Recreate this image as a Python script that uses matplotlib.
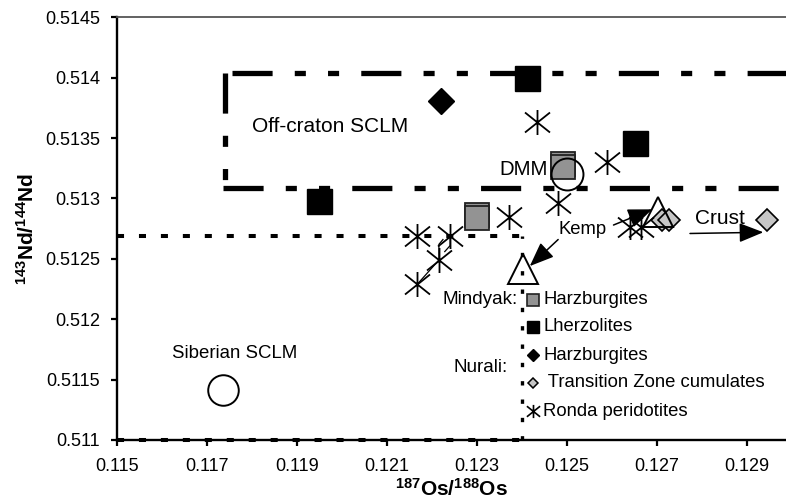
import matplotlib
matplotlib.use("Agg")
import matplotlib.pyplot as plt
from matplotlib.path import Path

plt.rcParams["font.family"] = ["Liberation Sans", "DejaVu Sans"]
plt.rcParams["mathtext.fontset"] = "custom"
plt.rcParams["mathtext.rm"] = "Liberation Sans"
plt.rcParams["mathtext.bf"] = "Liberation Sans:bold"
plt.rcParams["mathtext.it"] = "Liberation Sans:italic"

# ---- data: 187Os/188Os (x) vs 143Nd/144Nd (y) ----
mindyak_harz_x = [0.12301, 0.12301, 0.12492, 0.12492]
mindyak_harz_y = [0.512865, 0.512838, 0.513285, 0.513258]

mindyak_lherz_x = [0.11950, 0.12411, 0.12652]
mindyak_lherz_y = [0.51298, 0.51400, 0.51346]

nurali_harz_x = [0.12221]
nurali_harz_y = [0.51381]

nurali_tz_x = [0.12711, 0.12727, 0.12944]
nurali_tz_y = [0.512823, 0.51282, 0.51282]

ronda_x = [0.12433, 0.12589, 0.12481, 0.12372, 0.12167, 0.12241,
           0.12216, 0.12168, 0.12641, 0.12666]
ronda_y = [0.51363, 0.51330, 0.51296, 0.51285, 0.51269, 0.51269,
           0.51249, 0.51229, 0.51276, 0.51276]

kemp_x = [0.12403, 0.12704]
kemp_y = [0.51242, 0.51289]

dmm_x, dmm_y = [0.12501], [0.51320]
siberian_x, siberian_y = [0.11736], [0.51141]

# reservoir fields
offcraton_x0, offcraton_y0, offcraton_y1 = 0.11741, 0.513083, 0.514035
siberian_field_x1, siberian_field_y1 = 0.12400, 0.51269

x_ticks = [0.115, 0.117, 0.119, 0.121, 0.123, 0.125, 0.127, 0.129]
x_tick_labels = ["0.115", "0.117", "0.119", "0.121", "0.123", "0.125", "0.127", "0.129"]
y_ticks = [0.511, 0.5115, 0.512, 0.5125, 0.513, 0.5135, 0.514, 0.5145]
y_tick_labels = ["0.511", "0.5115", "0.512", "0.5125", "0.513", "0.5135", "0.514", "0.5145"]

legend_labels = ["Harzburgites", "Lherzolites", "Harzburgites",
                 " Transition Zone cumulates", "Ronda peridotites"]

# ---- styling ----
GRAY_SQ = "#939393"
GRAY_DI = "#c6c6c6"
asterisk = Path([(0, -1), (0, 1), (-1, -0.8), (1, 0.8), (-1, 0.8), (1, -0.8)],
                [Path.MOVETO, Path.LINETO] * 3)

fig = plt.figure(figsize=(7.86, 5.04), dpi=100)
ax = fig.add_axes([116.7 / 786, 64 / 504, (786 - 116.7) / 786, (440 - 17.3) / 504])
XMAX = 0.115 + (786 - 116.7) / 45000
ax.set_xlim(0.115, XMAX)
ax.set_ylim(0.511, 0.5145)

# Off-craton SCLM field (dash-dot-dot outline)
oc_style = dict(color="black", lw=3.8, solid_capstyle="butt",
                dash_capstyle="butt", zorder=1)
oc_dash = (0, (7.6, 4.2, 2.1, 4.2, 2.1, 4.2))
ax.plot([offcraton_x0, offcraton_x0], [offcraton_y1, offcraton_y0],
        linestyle=oc_dash, **oc_style)
ax.plot([offcraton_x0 + 0.00015, XMAX + 0.001], [offcraton_y1, offcraton_y1],
        linestyle=oc_dash, **oc_style)
ax.plot([offcraton_x0 - 0.00005, XMAX + 0.001], [offcraton_y0, offcraton_y0],
        linestyle=oc_dash, **oc_style)

# Siberian SCLM field (dotted outline)
dot_style = dict(color="black", lw=2.9, linestyle=(0, (1.75, 3.7)),
                 dash_capstyle="butt", zorder=1, clip_on=False)
ax.plot([0.115, siberian_field_x1], [siberian_field_y1, siberian_field_y1], **dot_style)
ax.plot([0.115, siberian_field_x1], [0.511, 0.511], **dot_style)
ax.plot([siberian_field_x1, siberian_field_x1], [0.511, siberian_field_y1],
        color="black", lw=2.4, linestyle=(0, (1.3, 4.2)), zorder=1, clip_on=False)

# thin tie lines between Ronda samples
ax.plot([ronda_x[7], ronda_x[6]], [ronda_y[7], ronda_y[6]], color="black", lw=0.9, zorder=2)
ax.plot([ronda_x[6], 0.12216, 0.12225], [ronda_y[6], 0.51262, 0.51266],
        color="black", lw=0.9, zorder=2)
ax.plot([0.12229, 0.12241, 0.12241], [0.51256, 0.51261, 0.51269],
        color="black", lw=0.9, zorder=2)

# reference reservoirs
ax.plot(siberian_x, siberian_y, "o", ms=22, mfc="none", mec="black", mew=1.4, zorder=3)

# samples
ax.plot(mindyak_lherz_x, mindyak_lherz_y, "s", ms=18, mfc="black", mec="black",
        mew=1.0, zorder=4, linestyle="none")
ax.plot(mindyak_harz_x, mindyak_harz_y, "s", ms=17.5, mfc=GRAY_SQ, mec="#222222",
        mew=1.3, zorder=4, linestyle="none")
ax.plot(nurali_harz_x, nurali_harz_y, "D", ms=13, mfc="black", mec="black",
        zorder=4, linestyle="none")
ax.plot(nurali_tz_x, nurali_tz_y, "D", ms=11.5, mfc=GRAY_DI, mec="black",
        mew=1.2, zorder=4, linestyle="none")
ax.plot(kemp_x, kemp_y, "^", ms=21, mfc="none", mec="black", mew=1.4,
        zorder=5, linestyle="none")
ax.plot(ronda_x, ronda_y, marker=asterisk, ms=18, mfc="none", mec="black",
        mew=1.3, zorder=6, linestyle="none")
ax.plot(dmm_x, dmm_y, "o", ms=23, mfc="none", mec="black", mew=1.4, zorder=6)

# annotations
ax.text(0.11800, 0.513595, "Off-craton SCLM", fontsize=15, ha="left", va="center")
ax.text(0.11622, 0.51172, "Siberian SCLM", fontsize=13.4, ha="left", va="center")
ax.text(0.12350, 0.51324, "DMM", fontsize=14.7, ha="left", va="center", zorder=7)
ax.text(0.12785, 0.512837, "Crust", fontsize=15, ha="left", va="center")
ax.text(0.12481, 0.51274, "Kemp", fontsize=13.3, ha="left", va="center")

arrow = dict(arrowstyle="-|>,head_length=0.75,head_width=0.3", color="black",
             lw=1.1, shrinkA=0, shrinkB=0, mutation_scale=20)
ax.annotate("", xy=(0.12418, 0.51244), xytext=(0.12481, 0.51266), arrowprops=arrow, zorder=7)
ax.annotate("", xy=(0.12690, 0.51291), xytext=(0.12604, 0.51278), arrowprops=arrow, zorder=7)
ax.annotate("", xy=(0.12937, 0.51272), xytext=(0.12774, 0.51271), arrowprops=arrow, zorder=7)

# legend block
leg_x = 0.124244
leg_rows = [0.512162, 0.511936, 0.511701, 0.511473, 0.511238]
leg_styles = [
    dict(marker="s", ms=9, mfc=GRAY_SQ, mec="#222222", mew=1.2),
    dict(marker="s", ms=9, mfc="black", mec="black", mew=1.0),
    dict(marker="D", ms=6, mfc="black", mec="black", mew=1.0),
    dict(marker="D", ms=5.5, mfc=GRAY_DI, mec="black", mew=1.1),
    dict(marker=asterisk, ms=9.5, mfc="none", mec="black", mew=1.2),
]
for yy, lab, st in zip(leg_rows, legend_labels, leg_styles):
    ax.plot([leg_x], [yy], linestyle="none", zorder=6, **st)
    ax.text(leg_x + 0.00024, yy, lab, fontsize=13.3, ha="left", va="center")
ax.text(0.12392, leg_rows[0], "Mindyak:", fontsize=13.6, ha="right", va="center")
ax.text(0.12370, 0.511597, "Nurali:", fontsize=13.6, ha="right", va="center")

# axes
ax.set_xticks(x_ticks)
ax.set_xticklabels(x_tick_labels)
ax.set_yticks(y_ticks)
ax.set_yticklabels(y_tick_labels)
ax.tick_params(axis="both", direction="out", length=4, width=1.6, labelsize=13)
ax.tick_params(axis="x", pad=9)
ax.tick_params(axis="y", pad=8)
ax.spines["right"].set_visible(False)
ax.spines["top"].set_color("#555555")
ax.spines["top"].set_linewidth(1.3)
ax.spines["left"].set_linewidth(1.7)
ax.spines["bottom"].set_linewidth(1.7)

ax.set_xlabel(r"$\mathbf{^{187}Os/^{188}Os}$", fontsize=15, labelpad=2)
ax.set_ylabel(r"$\mathbf{^{143}Nd/^{144}Nd}$", fontsize=15, labelpad=5)

fig.savefig("out.png", dpi=100)
